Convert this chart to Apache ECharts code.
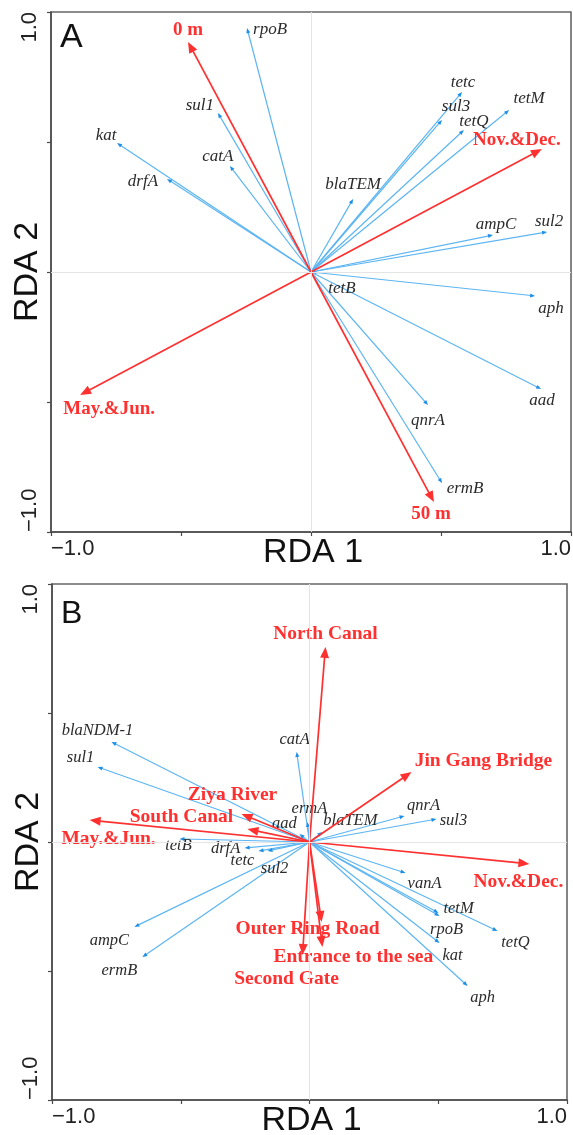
<!DOCTYPE html>
<html>
<head>
<meta charset="utf-8">
<script src="https://cdn.jsdelivr.net/npm/echarts@6/dist/echarts.min.js"></script>
<style>
  html, body { margin: 0; padding: 0; background: #fff; }
  #chart { width: 573px; height: 1135px; }
</style>
</head>
<body>
<div id="chart"></div>
<script>
// ---- Panel A: gene vectors ----
const genesA = ['rpoB', 'sul1', 'kat', 'catA', 'drfA', 'tetc', 'sul3', 'tetQ', 'tetM',
                'blaTEM', 'ampC', 'sul2', 'tetB', 'aph', 'aad', 'qnrA', 'ermB'];
const genesA_rda1 = [-0.246, -0.358, -0.746, -0.312, -0.554, 0.581, 0.504, 0.588, 0.762,
                     0.162, 0.700, 0.908, 0.027, 0.862, 0.885, 0.450, 0.504];
const genesA_rda2 = [0.938, 0.612, 0.496, 0.408, 0.358, 0.692, 0.585, 0.546, 0.623,
                     0.281, 0.142, 0.154, -0.004, -0.092, -0.450, -0.512, -0.812];

// ---- Panel A: explanatory variables ----
const factorsA = ['0 m', 'Nov.&Dec.', 'May.&Jun.', '50 m'];
const factorsA_rda1 = [-0.473, 0.888, -0.888, 0.473];
const factorsA_rda2 = [0.885, 0.473, -0.473, -0.885];

// ---- Panel B: gene vectors ----
const genesB = ['blaNDM-1', 'sul1', 'catA', 'ermA', 'aad', 'blaTEM', 'qnrA', 'sul3', 'tetB',
                'drfA', 'tetc', 'sul2', 'ampC', 'ermB', 'vanA', 'tetM', 'rpoB', 'kat', 'tetQ', 'aph'];
const genesB_rda1 = [-0.769, -0.823, -0.050, -0.008, -0.039, 0.050, 0.369, 0.493, -0.505,
                     -0.252, -0.198, -0.163, -0.680, -0.649, 0.373, 0.501, 0.505, 0.505, 0.730, 0.614];
const genesB_rda2 = [0.388, 0.291, 0.349, 0.078, 0.031, 0.039, 0.101, 0.089, 0.012,
                     -0.023, -0.035, -0.035, -0.329, -0.446, -0.120, -0.275, -0.287, -0.391, -0.345, -0.558];

// ---- Panel B: explanatory variables ----
const factorsB = ['North Canal', 'Jin Gang Bridge', 'Ziya River', 'South Canal', 'May.&Jun.',
                  'Nov.&Dec.', 'Outer Ring Road', 'Entrance to the sea', 'Second Gate'];
const factorsB_rda1 = [0.062, 0.396, -0.264, -0.241, -0.854, 0.854, 0.047, 0.050, -0.027];
const factorsB_rda2 = [0.756, 0.271, 0.109, 0.050, 0.085, -0.085, -0.310, -0.407, -0.438];

// ---- axis ticks ----
const tickLabelText = { '-1': '\u22121.0', '1': '1.0' };
const axisTitles = ['RDA 1', 'RDA 2'];
const panelLetters = ['A', 'B'];

// Label placement: pixel offset of each label centre from its arrow tip
const labelShift = {
  A: {
    rpoB: [23, 1], sul1: [-18, -7], kat: [-11, -8], catA: [-12, -9], drfA: [-24, 3],
    tetc: [1, -10], sul3: [14, -13], tetQ: [10, -9], tetM: [20, -11], blaTEM: [0, -14],
    ampC: [3, -11], sul2: [2, -10], tetB: [24, 15], aph: [16, 13], aad: [1, 12],
    qnrA: [0, 15], ermB: [23, 5],
    '0 m': [0, -12], 'Nov.&Dec.': [-25, -9], 'May.&Jun.': [29, 14], '50 m': [-3, 12]
  },
  B: {
    'blaNDM-1': [-14, -11], sul1: [-17, -9], catA: [-2, -12], ermA: [2, -13], aad: [-15, -10],
    blaTEM: [28, -11], qnrA: [19, -10], sul3: [17, 2], tetB: [-1, 7], drfA: [-19, 1],
    tetc: [-16, 10], sul2: [7, 18], ampC: [-25, 14], ermB: [-23, 14], vanA: [19, 11],
    tetM: [20, -4], rpoB: [7, 14], kat: [13, 13], tetQ: [18, 12], aph: [15, 12],
    'North Canal': [0, -13], 'Jin Gang Bridge': [72, -11], 'Ziya River': [-9, -19],
    'South Canal': [-66, -12], 'May.&Jun.': [19, 19], 'Nov.&Dec.': [-11, 18],
    'Outer Ring Road': [-14, 7], 'Entrance to the sea': [31, 10], 'Second Gate': [-16, 24]
  }
};

const SERIF = "'Liberation Serif', 'Times New Roman', serif";
const SANS = "'Liberation Sans', Arial, sans-serif";
const BLUE_LINE = '#5cb5f2';
const BLUE_HEAD = '#1f8fe6';
const RED = '#ff3030';

function toPoints(xs, ys) { return xs.map((x, i) => [x, ys[i]]); }

function arrowRenderer(names, shifts, isFactor, fontSize) {
  return function (params, api) {
    const o = api.coord([0, 0]);
    const t = api.coord([api.value(0), api.value(1)]);
    const dx = t[0] - o[0], dy = t[1] - o[1];
    const len = Math.hypot(dx, dy) || 1;
    const ux = dx / len, uy = dy / len;
    const hl = isFactor ? 11 : 5;
    const hw = isFactor ? 4.5 : 2;
    const bx = t[0] - ux * hl, by = t[1] - uy * hl;
    const name = names[params.dataIndex];
    const s = shifts[name] || [0, 0];
    return {
      type: 'group',
      children: [
        {
          type: 'line',
          shape: { x1: o[0], y1: o[1], x2: bx + ux * 1, y2: by + uy * 1 },
          style: { stroke: isFactor ? RED : BLUE_LINE, lineWidth: isFactor ? 1.7 : 1.2 }
        },
        {
          type: 'polygon',
          shape: { points: [[t[0], t[1]], [bx - uy * hw, by + ux * hw], [bx + uy * hw, by - ux * hw]] },
          style: { fill: isFactor ? RED : BLUE_HEAD }
        },
        {
          type: 'text',
          z2: 20,
          x: t[0] + s[0],
          y: t[1] + s[1],
          style: {
            text: name,
            fill: isFactor ? RED : '#2b2b2b',
            fontSize: fontSize,
            fontFamily: SERIF,
            fontStyle: isFactor ? 'normal' : 'italic',
            fontWeight: isFactor ? 'bold' : 'normal',
            align: 'center',
            verticalAlign: 'middle'
          }
        }
      ]
    };
  };
}

function xAxisFor(gridIndex) {
  return {
    gridIndex, type: 'value', min: -1, max: 1, interval: 0.5,
    axisLine: { onZero: false, lineStyle: { color: '#4a4a4a', width: 1.5 } },
    axisTick: { show: true, length: 4, lineStyle: { color: '#4a4a4a', width: 1.2 } },
    splitLine: { show: false },
    axisLabel: {
      formatter: v => tickLabelText[String(v)] || '',
      showMinLabel: true, showMaxLabel: true,
      alignMinLabel: 'left', alignMaxLabel: 'right',
      fontSize: 22, color: '#222', fontFamily: SANS, margin: 6
    },
    name: axisTitles[0], nameLocation: 'middle', nameGap: 4, nameMoveOverlap: false,
    nameTextStyle: { fontSize: 34, color: '#111', fontFamily: SANS, padding: [0, 0, 0, 4] }
  };
}

function yAxisFor(gridIndex) {
  return {
    gridIndex, type: 'value', min: -1, max: 1, interval: 0.5,
    axisLine: { onZero: false, lineStyle: { color: '#4a4a4a', width: 1.5 } },
    axisTick: { show: true, length: 4, lineStyle: { color: '#4a4a4a', width: 1.2 } },
    splitLine: { show: false },
    axisLabel: {
      formatter: v => tickLabelText[String(v)] || '',
      showMinLabel: true, showMaxLabel: true,
      rotate: 90,
      alignMinLabel: 'left', alignMaxLabel: 'right',
      fontSize: 22, color: '#222', fontFamily: SANS, margin: 10
    },
    name: axisTitles[1], nameLocation: 'middle', nameGap: 6, nameRotate: 90, nameMoveOverlap: false,
    nameTextStyle: { fontSize: 34, color: '#111', fontFamily: SANS }
  };
}

function zeroLines() {
  return {
    silent: true, symbol: 'none', label: { show: false },
    lineStyle: { color: '#e4e4e4', type: 'solid', width: 1 },
    data: [{ xAxis: 0 }, { yAxis: 0 }]
  };
}

function panelSeries(idx, key, genes, g1, g2, factors, f1, f2, geneFont, factorFont) {
  return [
    {
      type: 'custom', xAxisIndex: idx, yAxisIndex: idx, clip: false, z: 2,
      data: toPoints(g1, g2), encode: { x: 0, y: 1 },
      renderItem: arrowRenderer(genes, labelShift[key], false, geneFont),
      markLine: zeroLines()
    },
    {
      type: 'custom', xAxisIndex: idx, yAxisIndex: idx, clip: false, z: 3,
      data: toPoints(f1, f2), encode: { x: 0, y: 1 },
      renderItem: arrowRenderer(factors, labelShift[key], true, factorFont)
    }
  ];
}

const chart = echarts.init(document.getElementById('chart'), null, { renderer: 'canvas' });
chart.setOption({
  backgroundColor: '#ffffff',
  animation: false,
  grid: [
    { left: 51, top: 12, width: 520, height: 520, containLabel: false, outerBoundsMode: 'none',
      show: true, borderColor: '#666', borderWidth: 1.6, backgroundColor: '#fff' },
    { left: 52, top: 584, width: 515, height: 516, containLabel: false, outerBoundsMode: 'none',
      show: true, borderColor: '#666', borderWidth: 1.6, backgroundColor: '#fff' }
  ],
  xAxis: [xAxisFor(0), xAxisFor(1)],
  yAxis: [yAxisFor(0), yAxisFor(1)],
  graphic: [
    { type: 'text', left: 60, top: 21, style: { text: panelLetters[0], fontSize: 34, fontFamily: SANS, fill: '#111' } },
    { type: 'text', left: 61, top: 598, style: { text: panelLetters[1], fontSize: 32, fontFamily: SANS, fill: '#111' } }
  ],
  series: [
    ...panelSeries(0, 'A', genesA, genesA_rda1, genesA_rda2, factorsA, factorsA_rda1, factorsA_rda2, 17, 19),
    ...panelSeries(1, 'B', genesB, genesB_rda1, genesB_rda2, factorsB, factorsB_rda1, factorsB_rda2, 16.5, 19.5)
  ]
});
</script>
</body>
</html>
